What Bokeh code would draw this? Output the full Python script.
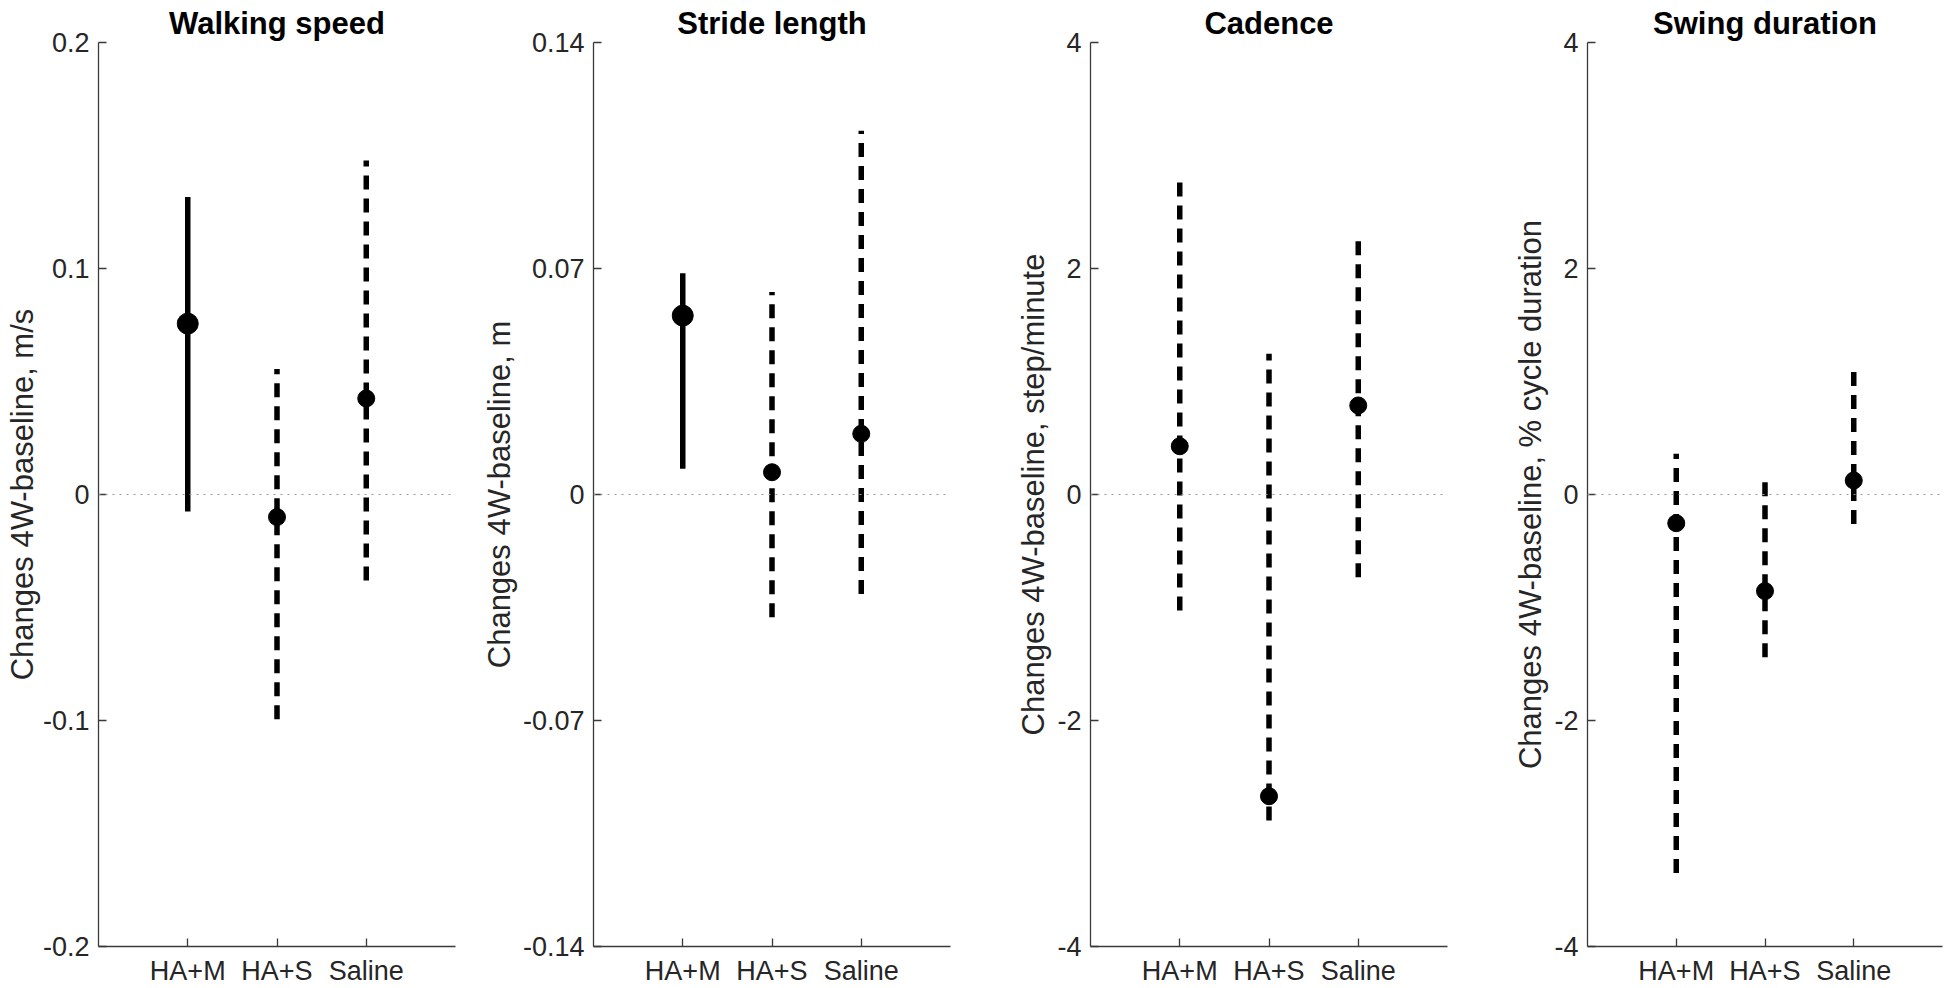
from bokeh.plotting import figure
from bokeh.layouts import row
from bokeh.models import Range1d, FixedTicker, Span, ColumnDataSource
from bokeh.embed import file_html
from bokeh.resources import INLINE

groups = ["HA+M", "HA+S", "Saline"]

walking_mean = [0.0756, -0.0100, 0.0425]
walking_lo = [-0.0075, -0.0995, -0.0380]
walking_hi = [0.1316, 0.0555, 0.1478]
walking_solid = [True, False, False]
walking_ticks = [-0.2, -0.1, 0.0, 0.1, 0.2]
walking_ticklabels = ["-0.2", "-0.1", "0", "0.1", "0.2"]

stride_mean = [0.0554, 0.0069, 0.0188]
stride_lo = [0.0080, -0.0380, -0.0308]
stride_hi = [0.0685, 0.0627, 0.1127]
stride_solid = [True, False, False]
stride_ticks = [-0.14, -0.07, 0.0, 0.07, 0.14]
stride_ticklabels = ["-0.14", "-0.07", "0", "0.07", "0.14"]

cadence_mean = [0.427, -2.67, 0.788]
cadence_lo = [-1.027, -2.885, -0.732]
cadence_hi = [2.83, 1.245, 2.28]
cadence_solid = [False, False, False]
cadence_ticks = [-4, -2, 0, 2, 4]
cadence_ticklabels = ["-4", "-2", "0", "2", "4"]

swing_mean = [-0.254, -0.855, 0.124]
swing_lo = [-3.35, -1.44, -0.26]
swing_hi = [0.36, 0.168, 1.10]
swing_solid = [False, False, False]
swing_ticks = [-4, -2, 0, 2, 4]
swing_ticklabels = ["-4", "-2", "0", "2", "4"]

FONT = "Liberation Sans"
AX = "#262626"


def panel(title, ylabel, mean, lo, hi, solid, ticks, ticklabels, width, bl, br, lab_standoff):
    p = figure(width=width, height=988,
               x_range=Range1d(0, len(groups) + 1),
               y_range=Range1d(ticks[0], ticks[-1]),
               output_backend="svg", toolbar_location=None,
               min_border_left=bl, min_border_right=br,
               min_border_top=42, min_border_bottom=41,
               outline_line_color=None, background_fill_color="white",
               border_fill_color="white")
    p.grid.visible = False
    p.title.text = title
    p.title.text_font = FONT
    p.title.text_font_size = "31px"
    p.title.text_font_style = "bold"
    p.title.text_color = "black"
    p.title.align = "center"
    p.title.standoff = 4

    xs = list(range(1, len(groups) + 1))
    p.xaxis.ticker = FixedTicker(ticks=xs)
    p.xaxis.major_label_overrides = {x: g for x, g in zip(xs, groups)}
    p.yaxis.ticker = FixedTicker(ticks=ticks)
    p.yaxis.major_label_overrides = {t: l for t, l in zip(ticks, ticklabels)}
    p.yaxis.axis_label = ylabel
    for ax in (p.xaxis[0], p.yaxis[0]):
        ax.axis_line_color = "#3a3a3a"
        ax.axis_line_width = 1.3
        ax.major_tick_line_color = "#3a3a3a"
        ax.major_tick_line_width = 1.3
        ax.major_tick_in = 8
        ax.major_tick_out = 0
        ax.minor_tick_in = 0
        ax.minor_tick_out = 0
        ax.major_label_text_font = FONT
        ax.major_label_text_font_size = "27px"
        ax.major_label_text_color = AX
    p.xaxis.major_label_standoff = 9
    p.yaxis.major_label_standoff = 9
    p.yaxis.axis_label_text_font = FONT
    p.yaxis.axis_label_text_font_size = "31px"
    p.yaxis.axis_label_text_font_style = "normal"
    p.yaxis.axis_label_text_color = AX
    p.yaxis.axis_label_standoff = lab_standoff

    p.add_layout(Span(location=0, dimension="width", line_color="#9a9a9a",
                      line_dash="2 5", line_width=1))

    for is_solid in (True, False):
        idx = [i for i in range(len(groups)) if solid[i] == is_solid]
        if not idx:
            continue
        src = ColumnDataSource(dict(
            x=[xs[i] for i in idx],
            lo=[lo[i] for i in idx],
            hi=[hi[i] for i in idx],
            m=[mean[i] for i in idx],
        ))
        p.segment(x0="x", y0="lo", x1="x", y1="hi", source=src,
                  line_color="black", line_width=5.5,
                  line_dash="solid" if is_solid else "14 9")
        p.scatter(x="x", y="m", source=src, size=21 if is_solid else 17,
                  fill_color="black", line_color="black")
    return p


p1 = panel("Walking speed", "Changes 4W-baseline, m/s", walking_mean, walking_lo,
           walking_hi, walking_solid, walking_ticks, walking_ticklabels, 476, 98, 21, 0)
p2 = panel("Stride length", "Changes 4W-baseline, m", stride_mean, stride_lo,
           stride_hi, stride_solid, stride_ticks, stride_ticklabels, 494, 117, 20, 3)
p3 = panel("Cadence", "Changes 4W-baseline, step/minute", cadence_mean, cadence_lo,
           cadence_hi, cadence_solid, cadence_ticks, cadence_ticklabels, 497, 120, 20, 3)
p4 = panel("Swing duration", "Changes 4W-baseline, % cycle duration", swing_mean, swing_lo,
           swing_hi, swing_solid, swing_ticks, swing_ticklabels, 479, 120, 4, 3)

layout = row(p1, p2, p3, p4)
open("out.html", "w").write(file_html(layout, INLINE))
